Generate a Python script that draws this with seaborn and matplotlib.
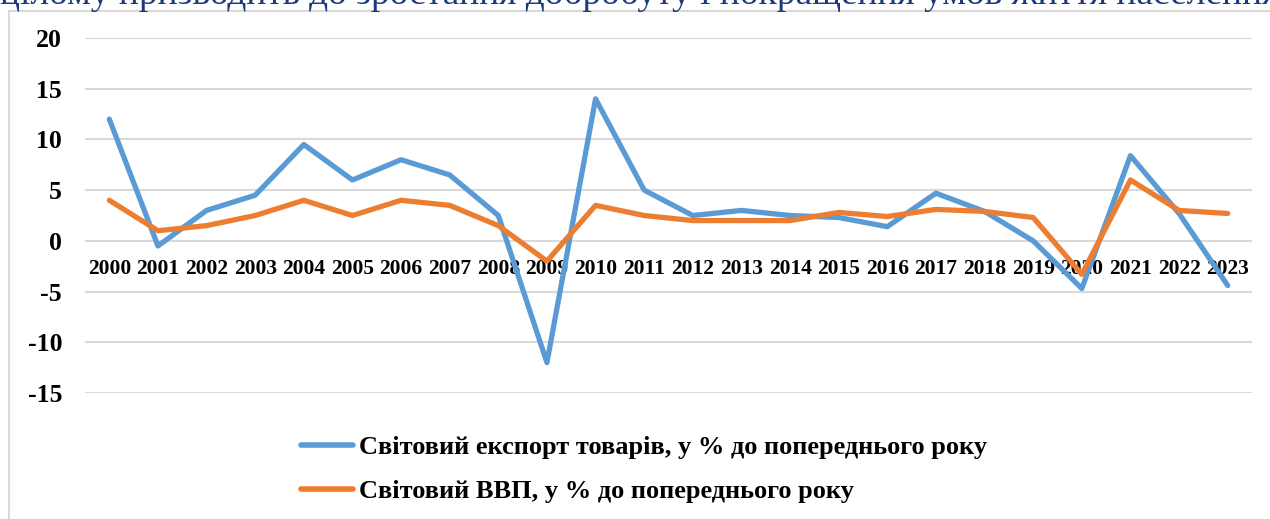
import matplotlib
matplotlib.use("Agg")
import matplotlib.pyplot as plt
import seaborn as sns
import pandas as pd
from matplotlib.patches import Rectangle
from matplotlib.lines import Line2D

years = [str(y) for y in range(2000, 2024)]
export_vals = [12.0, -0.5, 3.0, 4.5, 9.5, 6.0, 8.0, 6.5, 2.5, -12.0, 14.0, 5.0,
               2.5, 3.0, 2.5, 2.3, 1.4, 4.7, 2.9, 0.0, -4.7, 8.4, 2.7, -4.4]
gdp_vals = [4.0, 1.0, 1.5, 2.5, 4.0, 2.5, 4.0, 3.5, 1.5, -2.0, 3.5, 2.5,
            2.0, 2.0, 2.0, 2.8, 2.4, 3.1, 2.9, 2.3, -3.3, 6.0, 3.0, 2.7]
series_names = ["Світовий експорт товарів, у % до попереднього року",
                "Світовий ВВП, у % до попереднього року"]
y_ticks = [20, 15, 10, 5, 0, -5, -10, -15]
header_text = "цілому призводить до зростання добробуту і покращення умов життя населення"

df = pd.DataFrame({
    "year": years * 2,
    "idx": list(range(len(years))) * 2,
    "value": export_vals + gdp_vals,
    "series": [series_names[0]] * len(years) + [series_names[1]] * len(years),
})

sns.set_theme(style="white")
plt.rcParams['font.family'] = ['Liberation Serif', 'DejaVu Serif']
plt.rcParams['text.color'] = 'black'
plt.rcParams['xtick.color'] = 'black'
plt.rcParams['ytick.color'] = 'black'

fig = plt.figure(figsize=(12.7, 5.19), dpi=100)
ax = fig.add_axes([85/1270, 1-393/519, (1252-85)/1270, (393-38)/519])

# chart frame
fig.patches.append(Rectangle((9/1270, -0.2), 1.2, 1.2-11/519, transform=fig.transFigure,
                             fill=False, edgecolor="#D9D9D9", linewidth=1.5, zorder=0))
# cropped document text above the chart
fig.text(0.0, 1-4/519, header_text, fontsize=27, color="#1F3A7A", ha="left", va="baseline",
         family=['Liberation Serif', 'DejaVu Serif'])

palette = {series_names[0]: "#5B9BD5", series_names[1]: "#ED7D31"}
sns.lineplot(data=df, x="idx", y="value", hue="series", palette=palette,
             linewidth=3.8, ax=ax, legend=False, sort=False)

for s in ax.spines.values():
    s.set_visible(False)
ax.spines['bottom'].set_position(('data', 0))

ax.set_xlim(-0.5, len(years) - 0.5)
ax.set_ylim(-15, 20)
ax.set_yticks(y_ticks)
ax.set_yticklabels([str(t) for t in y_ticks], fontsize=18.5, fontweight="bold")
ax.set_xticks(range(len(years)))
ax.set_xticklabels(years, fontsize=15.5, fontweight="bold")
ax.grid(axis="y", color="#D9D9D9", linewidth=1.5)
ax.set_axisbelow(True)
ax.tick_params(axis="y", length=0, pad=16.5, colors="black")
ax.tick_params(axis="x", length=0, pad=13, colors="black")
ax.set_xlabel("")
ax.set_ylabel("")

handles = [Line2D([0], [0], color=palette[n], linewidth=4) for n in series_names]
fig.legend(handles, series_names, loc="center left", bbox_to_anchor=(290/1270, 1-469.5/519),
           frameon=False, prop={'family': 'Liberation Serif', 'weight': 'bold', 'size': 19},
           handlelength=2.0, handletextpad=0.23, labelspacing=0.78, borderaxespad=0)

fig.savefig("out.png", dpi=100)
